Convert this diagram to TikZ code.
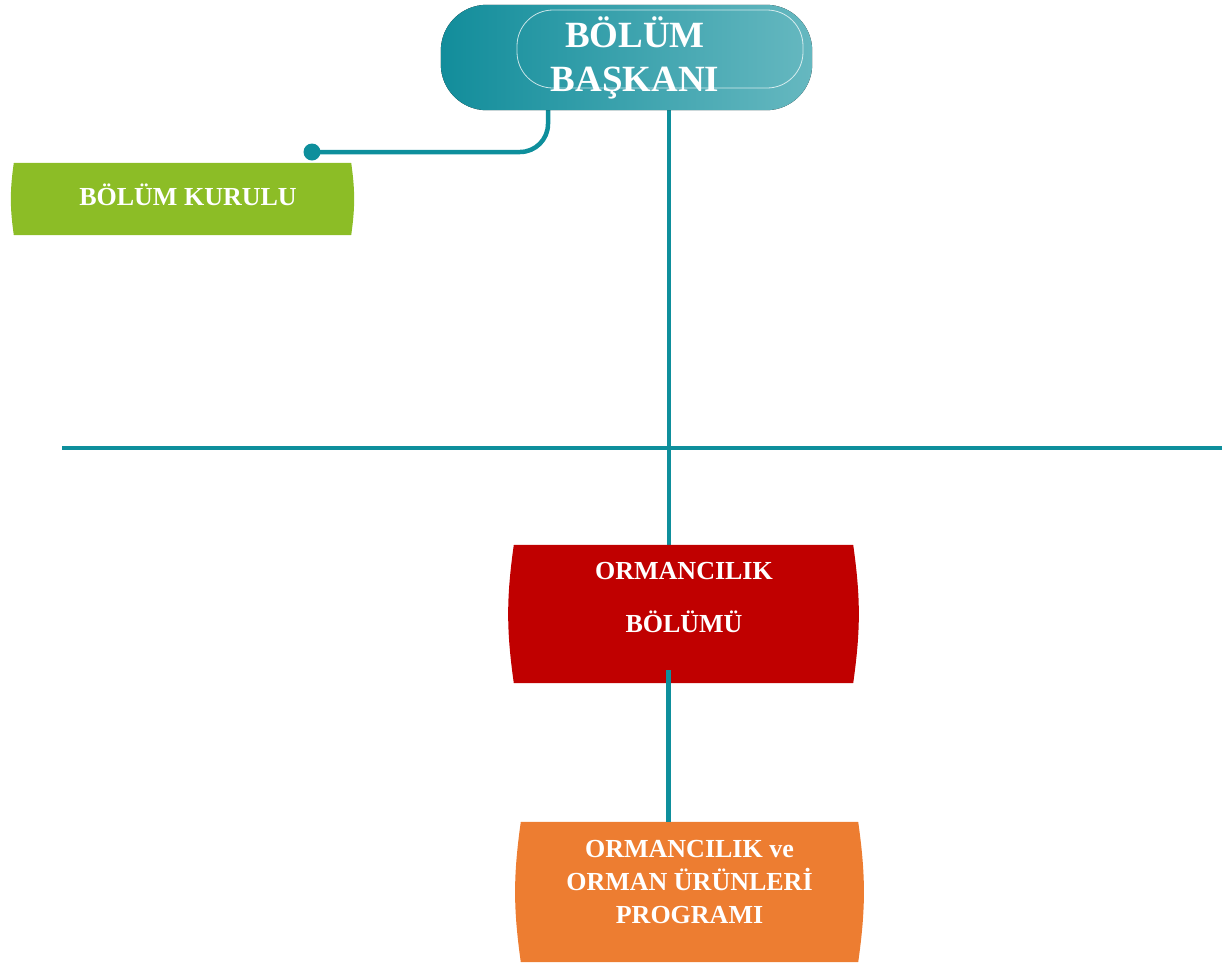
\documentclass[tikz,border=0pt]{standalone}
\usepackage{fontspec}
\setmainfont{Liberation Serif}
\usetikzlibrary{calc}
\definecolor{lineteal}{HTML}{0E8F9C}
\definecolor{pillL}{HTML}{128D9B}
\definecolor{pillR}{HTML}{66B8C0}
\definecolor{kgreen}{HTML}{8CBD26}
\definecolor{kred}{HTML}{C00000}
\definecolor{korange}{HTML}{ED7D31}
\tikzset{
  conn/.style={draw=lineteal, line width=4.5pt},
  boxspace/.style={draw=none, inner sep=0pt, minimum width=#1},
  lbl/.style={text=white, font=\bfseries\fontsize{26}{33}\selectfont, align=center, inner sep=0pt},
  headlbl/.style={text=white, font=\bfseries\fontsize{37}{44}\selectfont, align=center, inner sep=0pt}
}
\begin{document}
\begin{tikzpicture}[x=1pt,y=-1pt]
\useasboundingbox (0,0) rectangle (1225,962);

% shapes (empty named nodes giving the box extents)
\node[boxspace=371pt, minimum height=105pt] (head) at (626.5,57.5) {};
\node[boxspace=345pt, minimum height=72pt] (kurul) at (182.5,199) {};
\node[boxspace=347pt, minimum height=138pt] (dept) at (683.5,614) {};
\node[boxspace=345pt, minimum height=140pt] (prog) at (689.5,892) {};

\coordinate (kdot) at (312,152);
\coordinate (hl) at (62,448);
\coordinate (hr) at (1222,448);

% connectors
\draw[conn, rounded corners=28pt] ([xshift=-78.5pt]head.south) |- (kdot);
\fill[lineteal] (kdot) circle (8.5pt);
\draw[conn] ([xshift=42.5pt]head.south) -- ([xshift=-14.5pt]dept.north);
\draw[conn] (hl) -- (hr);

% head pill
\fill[left color=pillL, right color=pillR, rounded corners=46pt] (head.north west) rectangle (head.south east);
\draw[white, opacity=0.75, line width=0.8pt, rounded corners=36pt] (517,10) rectangle (803,88);

% curved-side boxes
\fill[kgreen] ([xshift=4pt]kurul.north west) to[bend right=8] ([xshift=4pt]kurul.south west) -- ([xshift=-4pt]kurul.south east) to[bend right=8] ([xshift=-4pt]kurul.north east) -- cycle;
\fill[kred] ([xshift=4pt]dept.north west) to[bend right=8] ([xshift=4pt]dept.south west) -- ([xshift=-4pt]dept.south east) to[bend right=8] ([xshift=-4pt]dept.north east) -- cycle;
\fill[korange] ([xshift=4pt]prog.north west) to[bend right=8] ([xshift=4pt]prog.south west) -- ([xshift=-4pt]prog.south east) to[bend right=8] ([xshift=-4pt]prog.north east) -- cycle;

\draw[conn, line width=5pt] ([xshift=-15.5pt,yshift=-56pt]dept.center) -- ([xshift=-21.5pt]prog.north);

% labels
\node[headlbl] (headtxt) at (635,58) {BÖLÜM\\BAŞKANI};
\node[lbl] (kurultxt) at (188,195) {BÖLÜM KURULU};
\node[lbl, font=\bfseries\fontsize{26}{53}\selectfont] (depttxt) at (684,598) {ORMANCILIK\\BÖLÜMÜ};
\node[lbl] (progtxt) at (689.5,882) {ORMANCILIK ve\\ORMAN ÜRÜNLERİ\\PROGRAMI};
\end{tikzpicture}
\end{document}
